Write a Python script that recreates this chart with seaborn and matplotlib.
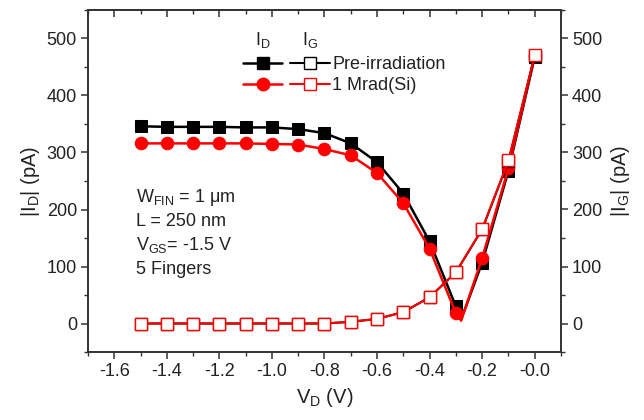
import numpy as np
import pandas as pd
import matplotlib
matplotlib.use("Agg")
import matplotlib.pyplot as plt
from matplotlib.lines import Line2D
from matplotlib.legend_handler import HandlerTuple
from matplotlib.ticker import MultipleLocator
import seaborn as sns

# ---- data ----
vd_id = [-1.5, -1.4, -1.3, -1.2, -1.1, -1.0, -0.9, -0.8, -0.7, -0.6, -0.5, -0.4, -0.3, -0.28, -0.2, -0.1, 0.0]
id_pre = [346, 345, 345, 345, 344, 344, 341, 334, 316, 283, 228, 144, 30, 7, 107, 268, 468]
id_rad = [316, 316, 316, 316, 316, 315, 314, 306, 295, 264, 211, 131, 18, 5, 115, 272, 470]
vd_ig = [-1.5, -1.4, -1.3, -1.2, -1.1, -1.0, -0.9, -0.8, -0.7, -0.6, -0.5, -0.4, -0.3, -0.2, -0.1, 0.0]
ig_pre = [0, 0, 0, 0, 0, 0, 0, 0, 3, 8, 20, 46, 90, 165, 285, 470]
ig_rad = [0, 0, 0, 0, 0, 0, 0, 0, 3, 8, 20, 46, 90, 166, 286, 471]
tip_index = 13  # the V-shaped minimum carries no marker
series_labels = ["Pre-irradiation", "1 Mrad(Si)"]
annot_lines = [r"W$_{\mathregular{FIN}}$ = 1 μm", "L = 250 nm", r"V$_{\mathregular{GS}}$= -1.5 V", "5 Fingers"]

sns.set_theme(style="ticks")
plt.rcParams["font.family"] = ["Liberation Sans", "DejaVu Sans"]
plt.rcParams["mathtext.fontset"] = "custom"
plt.rcParams["mathtext.rm"] = "Liberation Sans"
plt.rcParams["mathtext.default"] = "regular"

TXT = "#222222"
SP = "#333333"
RED = "#ff0000"

fig = plt.figure(figsize=(6.44, 4.2), dpi=100)
ax = fig.add_axes([88/644, 1-352/420, (561-88)/644, (352-10)/420])
ax2 = ax.twinx()

df_id = pd.DataFrame({"V": vd_id, "pre": id_pre, "rad": id_rad})
df_ig = pd.DataFrame({"V": vd_ig, "pre": ig_pre, "rad": ig_rad})
mk = [i for i in range(len(vd_id)) if i != tip_index]

sns.lineplot(data=df_id, x="V", y="pre", ax=ax, color="black", lw=1.8, marker="s", ms=8,
             mfc="black", mec="black", markevery=mk, zorder=3)
sns.lineplot(data=df_id, x="V", y="rad", ax=ax, color=RED, lw=1.8, marker="o", ms=9,
             mfc=RED, mec=RED, markevery=mk, zorder=4)
sns.lineplot(data=df_ig, x="V", y="pre", ax=ax, color="black", lw=1.5, marker="s", ms=8,
             mfc="white", mec="black", mew=1.0, zorder=5)
sns.lineplot(data=df_ig, x="V", y="rad", ax=ax, color=RED, lw=1.5, marker="s", ms=8,
             mfc="white", mec=RED, mew=1.0, zorder=6)

for a in (ax, ax2):
    a.set_ylim(-50, 550)
    a.yaxis.set_major_locator(MultipleLocator(100))
    a.yaxis.set_minor_locator(MultipleLocator(50))
ax.set_xlim(-1.7, 0.1)
ax.xaxis.set_minor_locator(MultipleLocator(0.1))
xt = np.round(np.arange(-1.6, 0.01, 0.2), 1)
ax.set_xticks(xt)
ax.set_xticklabels([f"{v:.1f}" for v in xt])

for a in (ax, ax2):
    for s in a.spines.values():
        s.set_visible(True)
        s.set_color(SP)
        s.set_linewidth(1.2)
ax.tick_params(axis="both", which="major", direction="out", length=5, width=1.1, color=SP,
               labelsize=13, labelcolor=TXT, pad=3)
ax.tick_params(axis="both", which="minor", direction="out", length=3, width=1.0, color=SP)
ax.tick_params(axis="y", right=False)
ax2.tick_params(axis="y", which="major", direction="out", length=5, width=1.1, color=SP,
                labelsize=13, labelcolor=TXT, pad=3)
ax2.tick_params(axis="y", which="minor", direction="out", length=3, width=1.0, color=SP)

top = ax.secondary_xaxis("top")
top.set_xticks(xt)
top.xaxis.set_minor_locator(MultipleLocator(0.1))
top.tick_params(axis="x", which="major", direction="in", length=5, width=1.1, color=SP, labeltop=False)
top.tick_params(axis="x", which="minor", direction="in", length=3, width=1.0, color=SP)
top.spines["top"].set_color(SP)

ax.set_xlabel(r"V$_{\mathregular{D}}$ (V)", fontsize=14.5, color=TXT, labelpad=4)
ax.set_ylabel(r"|I$_{\mathregular{D}}$| (pA)", fontsize=14.5, color=TXT, labelpad=3)
ax2.set_ylabel(r"|I$_{\mathregular{G}}$| (pA)", fontsize=14.5, color=TXT, labelpad=5, rotation=90)
ax.set_zorder(ax2.get_zorder() + 1)
ax.patch.set_visible(False)

# legend
h_pre_d = Line2D([], [], color="black", lw=1.8, marker="s", ms=8, mfc="black", mec="black")
h_pre_g = Line2D([], [], color="black", lw=1.5, marker="s", ms=8, mfc="white", mec="black")
h_rad_d = Line2D([], [], color=RED, lw=1.8, marker="o", ms=9, mfc=RED, mec=RED)
h_rad_g = Line2D([], [], color=RED, lw=1.5, marker="s", ms=8, mfc="white", mec=RED)
leg = ax.legend([(h_pre_d, h_pre_g), (h_rad_d, h_rad_g)], series_labels,
                handler_map={tuple: HandlerTuple(ndivide=None, pad=0.45)},
                loc="upper left", bbox_to_anchor=((243-88)/473, 1-(56-10)/342), frameon=False,
                fontsize=13, handlelength=4.8, handletextpad=0.15, labelspacing=0.22,
                borderpad=0.0, borderaxespad=0.0)
for t in leg.get_texts():
    t.set_color(TXT)
fig.text(263/644, 1-40/420, r"I$_{\mathregular{D}}$", fontsize=13, color=TXT, ha="center", va="center")
fig.text(310/644, 1-40/420, r"I$_{\mathregular{G}}$", fontsize=13, color=TXT, ha="center", va="center")

ys = [197, 221, 245, 269]
for txt, y in zip(annot_lines, ys):
    fig.text(136/644, 1-y/420, txt, fontsize=13, color=TXT, ha="left", va="center")

fig.savefig("out.png", dpi=100)
